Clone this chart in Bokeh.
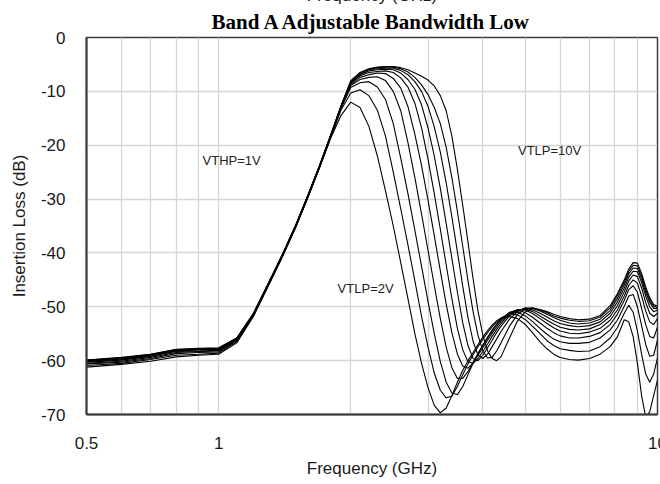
from bokeh.plotting import figure
from bokeh.models import Range1d, FixedTicker, Label, Title
from bokeh.embed import file_html
from bokeh.resources import INLINE

freq_ghz = [0.5, 0.6, 0.7, 0.8, 0.9,
            1.0, 1.1, 1.2, 1.3, 1.4, 1.5, 1.6, 1.7, 1.8, 1.9,
            2.0, 2.1, 2.2, 2.3, 2.4, 2.5, 2.6, 2.7, 2.8, 2.9,
            3.0, 3.1, 3.2, 3.3, 3.4, 3.5, 3.6, 3.7, 3.8, 3.9,
            4.0, 4.1, 4.2, 4.3, 4.4,
            4.6, 4.8, 5.0, 5.2, 5.4, 5.6, 5.8, 6.0, 6.3, 6.6,
            7.0, 7.4, 7.8, 8.1, 8.4, 8.6, 8.8, 9.0, 9.2, 9.4, 9.6, 9.8, 10.0]

vtlp_2v = [-61.2, -60.7, -60.1, -59.3, -59.0, -58.8, -56.7, -51.8, -46.0, -40.6, -35.2, -29.6, -24.1, -18.7, -14.5,
           -12.0, -13.0, -16.5, -22.0, -28.5, -35.0, -41.8, -48.5, -55.0, -60.5, -65.0, -68.3, -69.7, -68.8, -66.5,
           -64.0, -61.8, -60.0, -58.5, -57.0, -55.6, -54.4, -53.4, -52.6, -52.1,
           -51.8, -52.2, -53.3, -54.9, -56.5, -57.8, -58.8, -59.4, -59.8, -59.9, -59.6, -58.8, -57.4, -55.6, -52.4,
           -52.8, -55.5, -60.5, -66.5, -70.5, -69.5, -66.5, -63.6]
vtlp_3v = [-60.9, -60.5, -59.8, -59.0, -58.8, -58.6, -56.5, -51.7, -45.9, -40.5, -35.1, -29.5, -24.0, -18.6, -13.5,
           -10.3, -9.7, -10.8, -13.5, -18.3, -25.0, -31.8, -38.5, -45.2, -51.8, -57.5, -62.3, -65.5, -66.9, -66.6,
           -64.8, -62.6, -60.6, -58.9, -57.4, -56.0, -54.8, -53.7, -52.8, -52.1,
           -51.3, -51.5, -52.4, -53.7, -55.0, -56.3, -57.2, -57.8, -58.1, -58.3, -58.2, -57.4, -55.8, -53.9, -51.2,
           -49.7, -51.0, -54.5, -58.8, -62.5, -64.0, -62.5, -59.5]
vtlp_4v = [-60.6, -60.3, -59.6, -58.7, -58.5, -58.4, -56.3, -51.6, -45.9, -40.5, -35.1, -29.5, -24.0, -18.5, -13.2,
           -9.3, -8.4, -8.2, -9.2, -11.5, -16.0, -22.4, -29.0, -35.8, -42.5, -49.0, -55.0, -60.2, -64.0, -66.0,
           -66.3, -64.8, -62.6, -60.5, -58.7, -57.1, -55.6, -54.3, -53.2, -52.3,
           -51.2, -51.0, -51.7, -52.8, -54.0, -55.1, -56.0, -56.5, -56.8, -56.8, -56.6, -55.8, -54.3, -52.5, -49.9,
           -48.0, -47.7, -50.0, -53.5, -57.0, -59.2, -59.0, -56.2]
vtlp_5v = [-60.5, -60.1, -59.4, -58.5, -58.3, -58.2, -56.2, -51.5, -45.8, -40.4, -35.0, -29.4, -23.9, -18.4, -13.0,
           -8.9, -7.8, -7.4, -7.3, -8.0, -10.0, -13.6, -19.5, -26.0, -32.8, -39.5, -46.0, -52.2, -57.5, -61.3,
           -63.3, -63.3, -62.0, -60.3, -58.7, -57.2, -55.8, -54.5, -53.3, -52.4,
           -51.0, -50.6, -51.1, -52.0, -53.0, -54.0, -54.8, -55.4, -55.8, -55.8, -55.5, -54.8, -53.3, -51.4, -48.8,
           -46.8, -46.1, -47.3, -50.3, -53.3, -55.5, -55.8, -53.8]
vtlp_6v = [-60.3, -59.9, -59.2, -58.3, -58.2, -58.1, -56.1, -51.5, -45.8, -40.4, -35.0, -29.4, -23.9, -18.4, -12.9,
           -8.7, -7.4, -6.9, -6.6, -6.7, -7.6, -9.4, -12.8, -18.0, -23.8, -30.2, -36.8, -43.3, -49.5, -54.8,
           -58.8, -61.0, -61.4, -60.4, -59.0, -57.6, -56.2, -54.9, -53.7, -52.7,
           -51.2, -50.5, -50.6, -51.3, -52.2, -53.1, -53.9, -54.5, -54.9, -55.0, -54.7, -54.0, -52.5, -50.6, -48.0,
           -46.0, -45.0, -45.6, -48.0, -50.8, -52.8, -53.3, -52.2]
vtlp_7v = [-60.2, -59.8, -59.1, -58.2, -58.0, -58.0, -56.0, -51.4, -45.7, -40.3, -34.9, -29.3, -23.8, -18.3, -12.9,
           -8.5, -7.1, -6.5, -6.3, -6.2, -6.5, -7.5, -9.2, -12.2, -16.8, -22.6, -29.0, -35.6, -42.2, -48.5,
           -54.0, -58.0, -60.2, -60.5, -59.6, -58.3, -56.9, -55.5, -54.2, -53.1,
           -51.4, -50.6, -50.4, -50.9, -51.7, -52.5, -53.2, -53.8, -54.2, -54.3, -54.1, -53.3, -51.8, -49.8, -47.2,
           -45.2, -44.1, -44.4, -46.5, -49.2, -51.2, -51.8, -51.2]
vtlp_8v = [-60.1, -59.7, -59.0, -58.1, -57.9, -57.9, -55.9, -51.4, -45.7, -40.3, -34.9, -29.3, -23.8, -18.3, -12.8,
           -8.4, -6.9, -6.2, -6.0, -5.9, -6.0, -6.6, -7.8, -9.6, -12.5, -16.8, -22.0, -28.0, -34.5, -41.0,
           -47.3, -53.0, -57.2, -59.6, -60.0, -59.0, -57.6, -56.2, -54.8, -53.6,
           -51.7, -50.7, -50.3, -50.6, -51.2, -51.9, -52.6, -53.1, -53.5, -53.7, -53.5, -52.8, -51.2, -49.1, -46.5,
           -44.5, -43.4, -43.5, -45.5, -48.0, -50.0, -50.9, -50.6]
vtlp_9v = [-60.0, -59.6, -58.9, -58.1, -57.9, -57.8, -55.9, -51.3, -45.6, -40.2, -34.8, -29.2, -23.7, -18.2, -12.8,
           -8.3, -6.8, -6.0, -5.8, -5.7, -5.7, -6.1, -6.9, -8.2, -10.0, -12.8, -16.6, -21.3, -27.0, -33.3,
           -39.8, -46.2, -52.0, -56.4, -59.0, -59.6, -58.8, -57.4, -56.0, -54.6,
           -52.3, -50.9, -50.2, -50.3, -50.8, -51.4, -52.0, -52.5, -53.0, -53.2, -53.0, -52.3, -50.7, -48.5, -45.9,
           -43.9, -42.8, -42.9, -44.8, -47.3, -49.2, -50.3, -50.3]
vtlp_9v5 = [-59.9, -59.5, -58.8, -58.0, -57.8, -57.7, -55.8, -51.3, -45.6, -40.2, -34.8, -29.2, -23.7, -18.2, -12.8,
            -8.2, -6.6, -5.9, -5.6, -5.5, -5.5, -5.8, -6.4, -7.4, -8.8, -10.6, -13.0, -16.0, -20.4, -26.0,
            -32.3, -38.8, -45.2, -50.9, -55.3, -58.2, -59.5, -59.4, -58.2, -56.7,
            -53.6, -51.4, -50.4, -50.2, -50.6, -51.1, -51.7, -52.1, -52.5, -52.7, -52.6, -51.9, -50.2, -48.0, -45.4,
            -43.4, -42.3, -42.4, -44.3, -46.8, -48.8, -49.9, -50.1]
vtlp_10v = [-59.9, -59.4, -58.8, -57.9, -57.7, -57.6, -55.8, -51.2, -45.5, -40.1, -34.7, -29.1, -23.6, -18.1, -12.7,
            -8.0, -6.5, -5.8, -5.5, -5.4, -5.4, -5.6, -6.0, -6.6, -7.2, -7.9, -9.0, -10.8, -13.6, -18.3,
            -24.5, -31.2, -38.0, -44.8, -50.8, -55.3, -58.2, -59.6, -60.0, -59.3,
            -55.8, -52.6, -50.9, -50.3, -50.5, -50.9, -51.4, -51.8, -52.2, -52.4, -52.3, -51.6, -49.8, -47.6, -45.0,
            -43.0, -41.8, -41.9, -43.8, -46.3, -48.3, -49.6, -49.9]

curves = [vtlp_2v, vtlp_3v, vtlp_4v, vtlp_5v, vtlp_6v, vtlp_7v, vtlp_8v, vtlp_9v, vtlp_9v5, vtlp_10v]

y_ticks = [-70, -60, -50, -40, -30, -20, -10, 0]
y_tick_labels = ["-70", "-60", "-50", "-40", "-30", "-20", "-10", "0"]
x_label_ticks = [0.5, 1, 10]
x_tick_labels = ["0.5", "1", "10"]
x_grid_ticks = [0.6, 0.7, 0.8, 0.9, 1, 2, 3, 4, 5, 6, 7, 8, 9, 10]

annotations = [("VTHP=1V", 0.919, -22.8), ("VTLP=10V", 4.81, -21.0), ("VTLP=2V", 1.867, -46.6)]

SANS = "Liberation Sans"

p = figure(width=695, height=497, x_axis_type="log",
           x_range=Range1d(0.5, 10), y_range=Range1d(-70, 0),
           output_backend="svg", toolbar_location=None, title=None,
           min_border_left=86, min_border_right=38, min_border_top=0, min_border_bottom=60)
p.styles = {"position": "relative", "top": "-17px"}

main_title = Title(text="Band A Adjustable Bandwidth Low", align="center",
                   text_font="Liberation Serif", text_font_style="bold",
                   text_font_size="21px", text_color="#000000", standoff=7)
p.add_layout(main_title, "above")
cut_title = Title(text="Frequency (GHz)", align="center", text_font=SANS,
                  text_font_style="normal", text_font_size="17px",
                  text_color="#1a1a1a", standoff=0)
p.add_layout(cut_title, "above")

for c in curves:
    p.line(freq_ghz, c, line_color="#000000", line_width=1.1)

for txt, xx, yy in annotations:
    p.add_layout(Label(x=xx, y=yy, text=txt, text_font=SANS, text_font_size="13px",
                       text_baseline="middle", text_align="left", text_color="#222222"))

p.xaxis.ticker = FixedTicker(ticks=x_label_ticks)
p.xaxis.major_label_overrides = dict(zip(x_label_ticks, x_tick_labels))
p.xgrid.ticker = FixedTicker(ticks=x_grid_ticks)
p.yaxis.ticker = FixedTicker(ticks=y_ticks)
p.yaxis.major_label_overrides = dict(zip(y_ticks, y_tick_labels))
p.ygrid.ticker = FixedTicker(ticks=y_ticks)

for g in (p.xgrid, p.ygrid):
    g.grid_line_color = "#d6d6d6"
    g.grid_line_width = 1.3

for ax in (p.xaxis, p.yaxis):
    ax.major_tick_line_color = None
    ax.minor_tick_line_color = None
    ax.major_tick_out = 0
    ax.major_tick_in = 0
    ax.axis_line_color = "#3a3a3a"
    ax.axis_line_width = 2
    ax.major_label_text_font = SANS
    ax.major_label_text_font_size = "17px"
    ax.major_label_text_color = "#1a1a1a"
    ax.axis_label_text_font = SANS
    ax.axis_label_text_font_size = "17px"
    ax.axis_label_text_font_style = "normal"
    ax.axis_label_text_color = "#1a1a1a"

p.xaxis.axis_label = "Frequency (GHz)"
p.yaxis.axis_label = "Insertion Loss (dB)"
p.xaxis.major_label_standoff = 22
p.xaxis.axis_label_standoff = 7
p.yaxis.major_label_standoff = 21
p.yaxis.axis_label_standoff = 9

p.outline_line_color = "#3a3a3a"
p.outline_line_width = 1.5
p.background_fill_color = "#ffffff"
p.border_fill_color = "#ffffff"

open("out.html", "w").write(file_html(p, INLINE))
